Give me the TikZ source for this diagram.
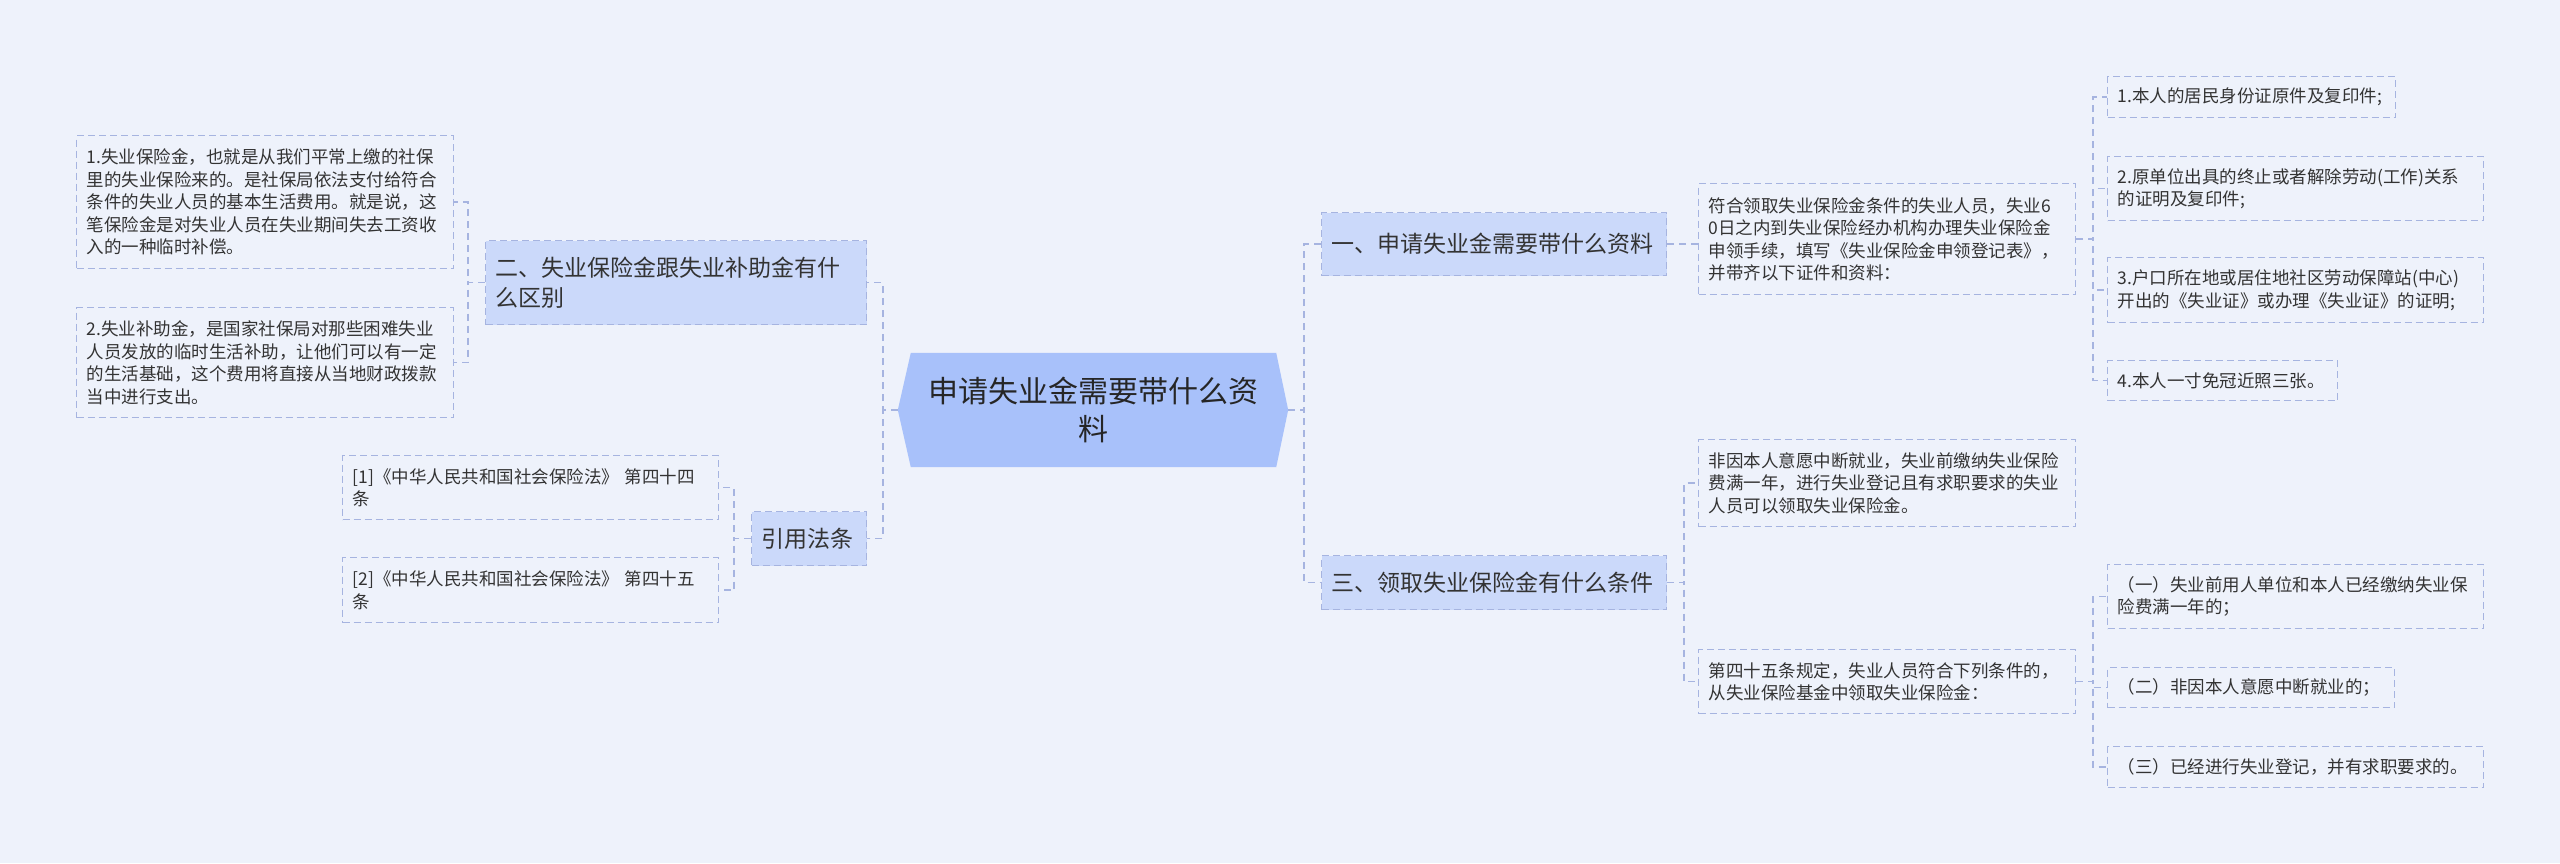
\documentclass[tikz,border=0pt]{standalone}
\usepackage{fontspec}
\setmainfont{Noto Sans CJK SC}
\usetikzlibrary{backgrounds}
\definecolor{paper}{HTML}{EEF2FB}
\definecolor{ink}{HTML}{333333}
\definecolor{rootblue}{HTML}{A8C1FA}
\definecolor{branchblue}{HTML}{CBD9FA}
\definecolor{dashline}{HTML}{A6B4E0}

\begin{document}
\begin{tikzpicture}[x=1pt,y=-1pt,
  box/.style={draw=dashline,line width=1.2pt,dash pattern=on 7pt off 4pt,anchor=north west,inner xsep=10pt,inner ysep=0pt,align=left,text=ink},
  leaf/.style={box,font=\fontsize{17.5}{22.5}\selectfont},
  branch/.style={box,fill=branchblue,font=\fontsize{23}{30}\selectfont},
  link/.style={draw=dashline,line width=1.5pt,dash pattern=on 7pt off 5pt}]
\begin{scope}[on background layer]
\fill[paper] (0,0) rectangle (2560,863);
\end{scope}
\useasboundingbox (0,0) rectangle (2560,863);

% centre
\node[minimum width=390pt,minimum height=114pt,align=center,text=black!85,font=\fontsize{30}{38}\selectfont] (root) at (1093,410) {申请失业金需要带什么资\\料};
\begin{scope}[on background layer]
\fill[rootblue] (root.west) -- ([xshift=13pt]root.north west) -- ([xshift=-12pt]root.north east) -- (root.east) -- ([xshift=-12pt]root.south east) -- ([xshift=13pt]root.south west) -- cycle;
\end{scope}

% left side
\node[branch,text width=361pt,minimum height=84pt] (diff) at (485,240) {二、失业保险金跟失业补助金有什\\么区别};
\node[branch,text width=95pt,minimum height=54pt] (laws) at (751,511) {引用法条};
\node[leaf,text width=357pt,minimum height=133pt] (ins) at (76,135) {1.失业保险金，也就是从我们平常上缴的社保\\里的失业保险来的。是社保局依法支付给符合\\条件的失业人员的基本生活费用。就是说，这\\笔保险金是对失业人员在失业期间失去工资收\\入的一种临时补偿。};
\node[leaf,text width=357pt,minimum height=110pt] (aid) at (76,307) {2.失业补助金，是国家社保局对那些困难失业\\人员发放的临时生活补助，让他们可以有一定\\的生活基础，这个费用将直接从当地财政拨款\\当中进行支出。};
\node[leaf,text width=356pt,minimum height=64pt] (law1) at (342,455) {[1]《中华人民共和国社会保险法》~第四十四\\条};
\node[leaf,text width=356pt,minimum height=65pt] (law2) at (342,557) {[2]《中华人民共和国社会保险法》~第四十五\\条};

% right side
\node[branch,text width=325pt,minimum height=63pt] (docs) at (1321,212) {一、申请失业金需要带什么资料};
\node[branch,text width=325pt,minimum height=54pt] (cond) at (1321,555) {三、领取失业保险金有什么条件};
\node[leaf,text width=357pt,minimum height=111pt] (apply) at (1698,183) {符合领取失业保险金条件的失业人员，失业6\\0日之内到失业保险经办机构办理失业保险金\\申领手续，填写《失业保险金申领登记表》，\\并带齐以下证件和资料：};
\node[leaf,text width=268pt,minimum height=41pt] (doc1) at (2107,76) {1.本人的居民身份证原件及复印件;};
\node[leaf,text width=356pt,minimum height=64pt] (doc2) at (2107,156) {2.原单位出具的终止或者解除劳动(工作)关系\\的证明及复印件;};
\node[leaf,text width=356pt,minimum height=65pt] (doc3) at (2107,257) {3.户口所在地或居住地社区劳动保障站(中心)\\开出的《失业证》或办理《失业证》的证明;};
\node[leaf,text width=210pt,minimum height=40pt] (doc4) at (2107,360) {4.本人一寸免冠近照三张。};
\node[leaf,text width=357pt,minimum height=87pt] (rule) at (1698,439) {非因本人意愿中断就业，失业前缴纳失业保险\\费满一年，进行失业登记且有求职要求的失业\\人员可以领取失业保险金。};
\node[leaf,text width=357pt,minimum height=64pt] (art) at (1698,649) {第四十五条规定，失业人员符合下列条件的，\\从失业保险基金中领取失业保险金：};
\node[leaf,text width=356pt,minimum height=64pt] (art1) at (2107,564) {（一）失业前用人单位和本人已经缴纳失业保\\险费满一年的；};
\node[leaf,text width=267pt,minimum height=40pt] (art2) at (2107,667) {（二）非因本人意愿中断就业的；};
\node[leaf,text width=356pt,minimum height=41pt] (art3) at (2107,746) {（三）已经进行失业登记，并有求职要求的。};

% connectors
\foreach \n in {diff,laws} \draw[link] (root.west) -- ++(-15,0) |- (\n.east);
\foreach \n in {ins,aid} \draw[link] (diff.west) -- ++(-17,0) |- (\n.east);
\foreach \n in {law1,law2} \draw[link] (laws.west) -- ++(-17,0) |- (\n.east);
\foreach \n in {docs,cond} \draw[link] (root.east) -- ++(16,0) |- (\n.west);
\draw[link] (docs.east) -- (docs.east -| apply.west);
\foreach \n in {doc1,doc2,doc3,doc4} \draw[link] (apply.east) -- ++(17,0) |- (\n.west);
\foreach \n in {rule,art} \draw[link] (cond.east) -- ++(17,0) |- (\n.west);
\foreach \n in {art1,art2,art3} \draw[link] (art.east) -- ++(17,0) |- (\n.west);
\end{tikzpicture}
\end{document}
